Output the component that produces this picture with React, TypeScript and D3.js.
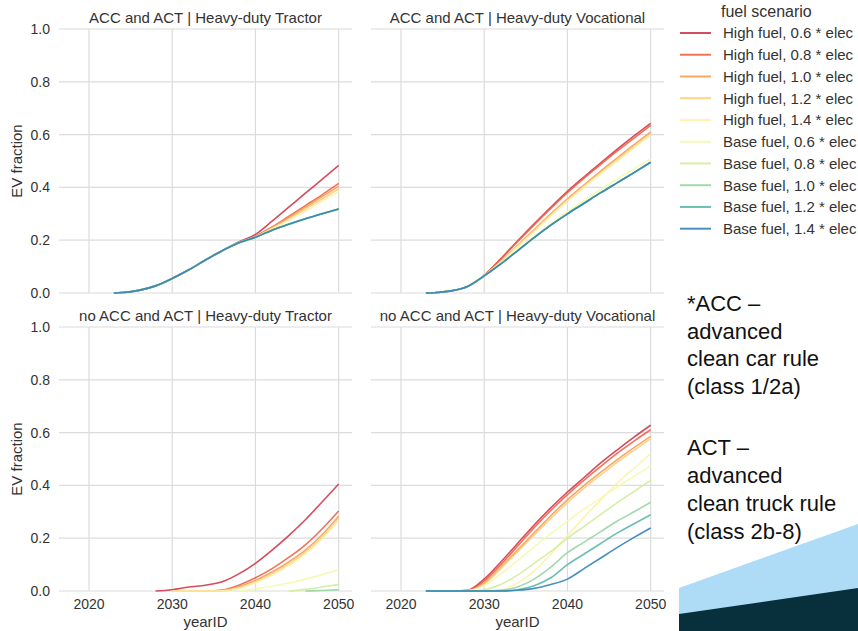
import * as d3 from "d3";

// model years sampled for every series (null = no value that year)
const years = [2023, 2024, 2026, 2028, 2030, 2032, 2034, 2036, 2038, 2040, 2042, 2044, 2046, 2048, 2050];

const scenarios = [
  "High fuel, 0.6 * elec",
  "High fuel, 0.8 * elec",
  "High fuel, 1.0 * elec",
  "High fuel, 1.2 * elec",
  "High fuel, 1.4 * elec",
  "Base fuel, 0.6 * elec",
  "Base fuel, 0.8 * elec",
  "Base fuel, 1.0 * elec",
  "Base fuel, 1.2 * elec",
  "Base fuel, 1.4 * elec",
];

// seaborn "Spectral", 10 colours
const scenarioColors = [
  "#d0384e", "#ee6445", "#fa9c58", "#fece7c", "#fff1a7",
  "#f4faad", "#d1ec9c", "#98d5a4", "#5cb7a9", "#3683ba",
];

const xTicks = [2020, 2030, 2040, 2050];
const yTicks = [0, 0.2, 0.4, 0.6, 0.8, 1.0];

type Series = (number | null)[];

const accTractor: Series[] = [
  [0, 0.002, 0.01, 0.027, 0.055, 0.088, 0.125, 0.16, 0.193, 0.222, 0.272, 0.325, 0.378, 0.43, 0.483],
  [0, 0.002, 0.01, 0.027, 0.055, 0.088, 0.125, 0.16, 0.19, 0.215, 0.25, 0.29, 0.331, 0.372, 0.415],
  [0, 0.002, 0.01, 0.027, 0.055, 0.088, 0.125, 0.16, 0.19, 0.213, 0.247, 0.285, 0.325, 0.365, 0.405],
  [0, 0.002, 0.01, 0.027, 0.055, 0.088, 0.125, 0.16, 0.19, 0.212, 0.245, 0.28, 0.318, 0.356, 0.395],
  [0, 0.002, 0.01, 0.027, 0.055, 0.088, 0.125, 0.16, 0.19, 0.212, 0.243, 0.276, 0.31, 0.347, 0.385],
  [0, 0.002, 0.01, 0.027, 0.055, 0.088, 0.125, 0.16, 0.19, 0.211, 0.238, 0.26, 0.281, 0.3, 0.318],
  [0, 0.002, 0.01, 0.027, 0.055, 0.088, 0.125, 0.16, 0.19, 0.211, 0.238, 0.26, 0.281, 0.3, 0.318],
  [0, 0.002, 0.01, 0.027, 0.055, 0.088, 0.125, 0.16, 0.19, 0.211, 0.238, 0.26, 0.281, 0.3, 0.318],
  [0, 0.002, 0.01, 0.027, 0.055, 0.088, 0.125, 0.16, 0.19, 0.211, 0.238, 0.26, 0.281, 0.3, 0.318],
  [0, 0.002, 0.01, 0.027, 0.055, 0.088, 0.125, 0.16, 0.19, 0.211, 0.238, 0.26, 0.281, 0.3, 0.318],
];

const accVocational: Series[] = [
  [0, 0.001, 0.008, 0.025, 0.067, 0.13, 0.197, 0.262, 0.325, 0.385, 0.44, 0.493, 0.545, 0.595, 0.643],
  [0, 0.001, 0.008, 0.025, 0.067, 0.128, 0.194, 0.258, 0.32, 0.38, 0.435, 0.487, 0.538, 0.587, 0.635],
  [0, 0.001, 0.008, 0.025, 0.066, 0.12, 0.18, 0.24, 0.3, 0.357, 0.41, 0.462, 0.512, 0.562, 0.61],
  [0, 0.001, 0.008, 0.025, 0.066, 0.118, 0.177, 0.236, 0.295, 0.352, 0.405, 0.456, 0.505, 0.554, 0.603],
  [0, 0.001, 0.008, 0.025, 0.066, 0.117, 0.175, 0.233, 0.292, 0.348, 0.4, 0.451, 0.5, 0.55, 0.598],
  [0, 0.001, 0.008, 0.025, 0.065, 0.112, 0.163, 0.215, 0.263, 0.308, 0.35, 0.392, 0.432, 0.471, 0.508],
  [0, 0.001, 0.008, 0.025, 0.065, 0.11, 0.16, 0.21, 0.257, 0.3, 0.34, 0.38, 0.418, 0.456, 0.495],
  [0, 0.001, 0.008, 0.025, 0.065, 0.11, 0.16, 0.21, 0.257, 0.3, 0.34, 0.38, 0.418, 0.456, 0.495],
  [0, 0.001, 0.008, 0.025, 0.065, 0.11, 0.16, 0.21, 0.257, 0.3, 0.34, 0.38, 0.418, 0.456, 0.495],
  [0, 0.001, 0.008, 0.025, 0.065, 0.11, 0.16, 0.21, 0.257, 0.3, 0.34, 0.38, 0.418, 0.456, 0.495],
];

const noAccTractor: Series[] = [
  [null, null, null, 0, 0.005, 0.015, 0.022, 0.035, 0.065, 0.105, 0.155, 0.21, 0.27, 0.337, 0.405],
  [null, null, null, null, 0, 0, 0, 0.004, 0.022, 0.05, 0.085, 0.127, 0.175, 0.235, 0.303],
  [null, null, null, null, 0, 0, 0, 0.002, 0.016, 0.04, 0.072, 0.11, 0.155, 0.213, 0.283],
  [null, null, null, null, 0, 0, 0, 0.001, 0.012, 0.034, 0.064, 0.101, 0.146, 0.203, 0.273],
  [null, null, null, null, 0, 0, 0, 0.001, 0.01, 0.031, 0.06, 0.096, 0.141, 0.198, 0.267],
  [null, null, null, null, null, null, null, null, 0, 0.008, 0.018, 0.03, 0.045, 0.062, 0.08],
  [null, null, null, null, null, null, null, null, null, null, null, 0, 0.006, 0.015, 0.025],
  [null, null, null, null, null, null, null, null, null, null, null, null, 0, 0.002, 0.005],
  [null, null, null, null, null, null, null, null, null, null, null, null, null, null, null],
  [null, null, null, null, null, null, null, null, null, null, null, null, null, null, null],
];

const noAccVocational: Series[] = [
  [0, 0, 0, 0.003, 0.045, 0.11, 0.18, 0.25, 0.315, 0.375, 0.43, 0.485, 0.535, 0.583, 0.628],
  [0, 0, 0, 0.002, 0.038, 0.1, 0.17, 0.24, 0.305, 0.365, 0.42, 0.472, 0.522, 0.568, 0.611],
  [0, 0, 0, 0.001, 0.03, 0.09, 0.155, 0.22, 0.285, 0.345, 0.4, 0.45, 0.498, 0.543, 0.586],
  [0, 0, 0, 0.001, 0.026, 0.085, 0.148, 0.212, 0.275, 0.335, 0.39, 0.44, 0.488, 0.533, 0.577],
  [0, 0, 0, 0, 0, 0.005, 0.03, 0.075, 0.14, 0.21, 0.28, 0.345, 0.41, 0.465, 0.52],
  [0, 0, 0, 0.002, 0.02, 0.065, 0.115, 0.167, 0.218, 0.265, 0.31, 0.352, 0.395, 0.435, 0.474],
  [0, 0, 0, 0, 0.005, 0.025, 0.06, 0.105, 0.15, 0.2, 0.245, 0.29, 0.335, 0.377, 0.419],
  [0, 0, 0, 0, 0, 0.003, 0.015, 0.045, 0.09, 0.145, 0.185, 0.225, 0.265, 0.3, 0.336],
  [0, 0, 0, 0, 0, 0, 0.005, 0.02, 0.05, 0.1, 0.14, 0.18, 0.22, 0.255, 0.289],
  [0, 0, 0, 0, 0, 0, 0.003, 0.01, 0.025, 0.045, 0.085, 0.125, 0.165, 0.203, 0.239],
];

const panelTitles = [
  "ACC and ACT | Heavy-duty Tractor",
  "ACC and ACT | Heavy-duty Vocational",
  "no ACC and ACT | Heavy-duty Tractor",
  "no ACC and ACT | Heavy-duty Vocational",
];
const panelSeries = [accTractor, accVocational, noAccTractor, noAccVocational];

const noteAcc = ["*ACC \u2013", "advanced", "clean car rule", "(class 1/2a)"];
const noteAct = ["ACT \u2013", "advanced", "clean truck rule", "(class 2b-8)"];

const W = 858;
const H = 631;
const panelW = 293;
const panelH = 264;
const colLeft = [59, 371];
const rowTop = [29, 327];
const font = "'Liberation Sans', Arial, Helvetica, sans-serif";
const textColor = "#333";
const gridColor = "#dcdcdc";

function Panel({ index }: { index: number }) {
  const col = index % 2;
  const row = Math.floor(index / 2);
  const left = colLeft[col];
  const top = rowTop[row];

  const x = d3.scaleLinear().domain([2016.4, 2051.6]).range([left, left + panelW]);
  const y = d3.scaleLinear().domain([0, 1]).range([top + panelH, top]);

  const line = d3
    .line<[number, number | null]>()
    .defined((d) => d[1] != null)
    .x((d) => x(d[0]))
    .y((d) => y(d[1] as number))
    .curve(d3.curveMonotoneX);

  return (
    <g>
      {yTicks.map((t) => (
        <line key={"gy" + t} x1={left} x2={left + panelW} y1={y(t)} y2={y(t)} stroke={gridColor} strokeWidth={1.2} />
      ))}
      {xTicks.map((t) => (
        <line key={"gx" + t} x1={x(t)} x2={x(t)} y1={top} y2={top + panelH} stroke={gridColor} strokeWidth={1.2} />
      ))}
      {panelSeries[index].map((s, i) => (
        <path
          key={i}
          d={line(years.map((yr, j) => [yr, s[j]] as [number, number | null])) || ""}
          fill="none"
          stroke={scenarioColors[i]}
          strokeWidth={1.6}
          strokeOpacity={0.9}
        />
      ))}
      <text x={left + panelW / 2} y={top - 6} textAnchor="middle" fontSize={15} fill={textColor}>
        {panelTitles[index]}
      </text>
      {col === 0 &&
        yTicks.map((t) => (
          <text key={"ly" + t} x={50} y={y(t)} dy="0.35em" textAnchor="end" fontSize={14} fill={textColor}>
            {t.toFixed(1)}
          </text>
        ))}
      {col === 0 && (
        <text
          transform={`translate(${22},${top + panelH / 2}) rotate(-90)`}
          textAnchor="middle"
          fontSize={15}
          fill={textColor}
        >
          EV fraction
        </text>
      )}
      {row === 1 &&
        xTicks.map((t) => (
          <text key={"lx" + t} x={x(t)} y={609} textAnchor="middle" fontSize={14} fill={textColor}>
            {t}
          </text>
        ))}
      {row === 1 && (
        <text x={left + panelW / 2} y={627} textAnchor="middle" fontSize={15} fill={textColor}>
          yearID
        </text>
      )}
    </g>
  );
}

export default function App() {
  const legendY = d3.scaleLinear().domain([0, scenarios.length - 1]).range([33, 228.7]);

  return (
    <svg
      width={W}
      height={H}
      style={{ position: "absolute", left: 0, top: 0, background: "#fff" }}
      fontFamily={font}
    >
      <rect width={W} height={H} fill="#fff" />
      {panelTitles.map((_, i) => (
        <Panel key={i} index={i} />
      ))}

      {/* legend */}
      <text x={721} y={17} fontSize={16} fill={textColor}>
        fuel scenario
      </text>
      {scenarios.map((s, i) => (
        <g key={s}>
          <line x1={680} x2={711} y1={legendY(i)} y2={legendY(i)} stroke={scenarioColors[i]} strokeWidth={2} strokeOpacity={0.9} />
          <text x={723} y={legendY(i)} dy="0.36em" fontSize={15} fill={textColor}>
            {s}
          </text>
        </g>
      ))}

      {/* slide decoration */}
      <polygon points="679,588 858,524 858,631 679,631" fill="#aedcf6" />
      <polygon points="679,614 858,588 858,631 679,631" fill="#082f3c" />

      {/* notes */}
      {noteAcc.map((t, i) => (
        <text key={"a" + i} x={687} y={311 + i * 27.5} fontSize={22} fill="#111">
          {t}
        </text>
      ))}
      {noteAct.map((t, i) => (
        <text key={"b" + i} x={687} y={455 + i * 28} fontSize={22} fill="#111">
          {t}
        </text>
      ))}
    </svg>
  );
}
